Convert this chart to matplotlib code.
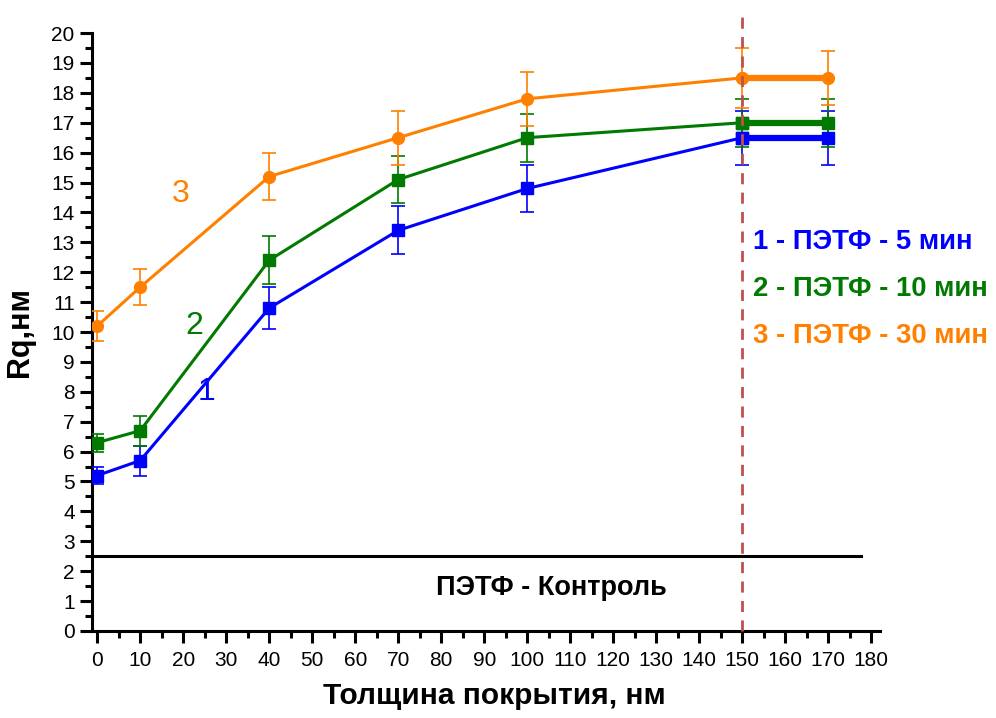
import numpy as np
import matplotlib.pyplot as plt
from matplotlib.ticker import MultipleLocator

plt.rcParams['font.family'] = ['Liberation Sans', 'DejaVu Sans']

# thickness of coating, nm
x = [0, 10, 40, 70, 100, 150, 170]

# Rq, nm and error
rq1 = [5.2, 5.7, 10.8, 13.4, 14.8, 16.5, 16.5]
err1 = [0.3, 0.5, 0.7, 0.8, 0.8, 0.9, 0.9]
rq2 = [6.3, 6.7, 12.4, 15.1, 16.5, 17.0, 17.0]
err2 = [0.3, 0.5, 0.8, 0.8, 0.8, 0.8, 0.8]
rq3 = [10.2, 11.5, 15.2, 16.5, 17.8, 18.5, 18.5]
err3 = [0.5, 0.6, 0.8, 0.9, 0.9, 1.0, 0.9]

labels = ['1 - ПЭТФ - 5 мин', '2 - ПЭТФ - 10 мин', '3 - ПЭТФ - 30 мин']
colors = ['#0000ff', '#007a00', '#ff8000']
markers = ['s', 's', 'o']
control = 2.5
cut = 150

fig = plt.figure(figsize=(9.96, 7.18), dpi=100)
ax = fig.add_axes([0.0924, 0.1212, 0.7911, 0.8328])

series = [(rq1, err1), (rq2, err2), (rq3, err3)]
for (y, e), c, m in zip(series, colors, markers):
    ax.errorbar(x, y, yerr=e, fmt='none', ecolor=c, elinewidth=1.2,
                capsize=5, capthick=1.2, zorder=3)
    ax.plot(x[:-1], y[:-1], color=c, lw=2.2, marker=m, ms=8.5, zorder=4)
    ax.plot(x[-2:], y[-2:], color=c, lw=4.5, marker=m, ms=8.5, zorder=4)

# curve numbers
ax.text(19.5, 14.6, '3', color=colors[2], fontsize=23, ha='center', va='center')
ax.text(22.5, 10.2, '2', color=colors[1], fontsize=23, ha='center', va='center')
ax.text(25.5, 8.0, '1', color=colors[0], fontsize=23, ha='center', va='center')

# legend text
for i, (t, c) in enumerate(zip(labels, colors)):
    ax.text(152.5, 13.0 - i * 1.57, t, color=c, fontsize=19.8, fontweight='bold',
            ha='left', va='center', clip_on=False)

# control line
ax.plot([-1.2, 177.5], [control, control], color='black', lw=2.2, zorder=2)
ax.text(105.5, 1.45, 'ПЭТФ - Контроль', fontsize=19.5, fontweight='bold',
        ha='center', va='center')

# dashed vertical at 150
ax.plot([cut, cut], [0, 20.75], color='#c0504d', lw=2, ls=(0, (4, 3)),
        clip_on=False, zorder=5)

ax.set_xlim(-1.2, 182)
ax.set_ylim(0, 20)
ax.xaxis.set_major_locator(MultipleLocator(10))
ax.xaxis.set_minor_locator(MultipleLocator(5))
ax.yaxis.set_major_locator(MultipleLocator(1))
ax.yaxis.set_minor_locator(MultipleLocator(0.5))

for s in ['top', 'right']:
    ax.spines[s].set_visible(False)
for s in ['left', 'bottom']:
    ax.spines[s].set_linewidth(2.2)

ax.tick_params(which='major', direction='out', length=8.5, width=2.2, labelsize=15)
ax.tick_params(which='minor', direction='out', length=5, width=2.2)
ax.tick_params(axis='x', which='major', pad=6)
ax.tick_params(axis='y', which='major', pad=4)

ax.set_xlabel('Толщина покрытия, нм', fontsize=21.5, fontweight='bold')
ax.xaxis.set_label_coords(0.51, -0.085)
ax.set_ylabel('Rq,нм', fontsize=22, fontweight='bold')
ax.yaxis.set_label_coords(-0.072, 0.5)

fig.savefig('out.png', dpi=100)
